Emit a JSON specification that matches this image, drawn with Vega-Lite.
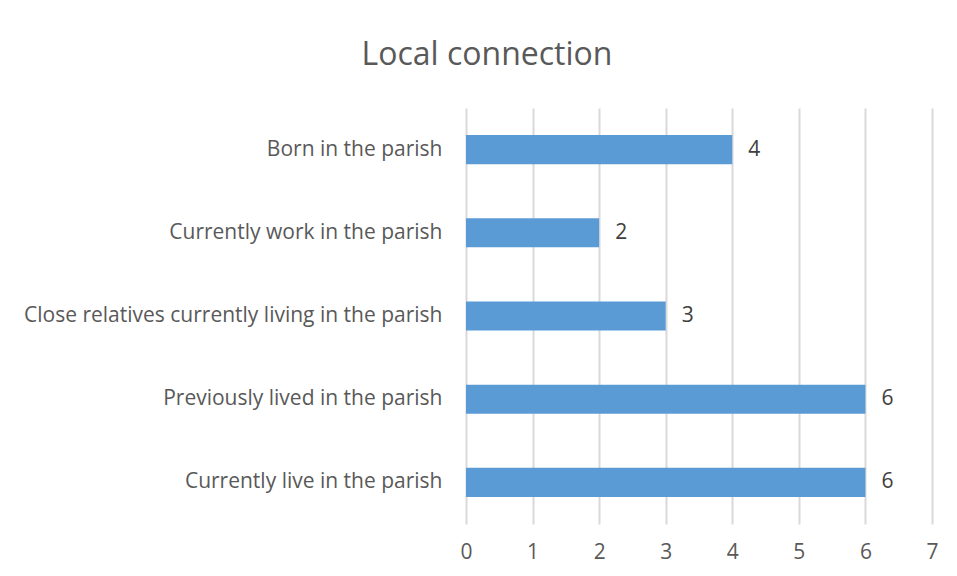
{
  "$schema": "https://vega.github.io/schema/vega-lite/v6.json",
  "autosize": {"type": "none"},
  "width": 466,
  "height": 416,
  "padding": {"left": 466, "top": 108, "right": 25, "bottom": 52},
  "background": "white",
  "title": {
    "text": "Local connection",
    "font": "Open Sans",
    "fontSize": 32,
    "fontWeight": "normal",
    "color": "#595959",
    "anchor": "middle",
    "dx": -212,
    "offset": 36
  },
  "config": {
    "view": {"stroke": null},
    "font": "Open Sans"
  },
  "data": {
    "values": [
      {"category": "Born in the parish", "count": 4},
      {"category": "Currently work in the parish", "count": 2},
      {"category": "Close relatives currently living in the parish", "count": 3},
      {"category": "Previously lived in the parish", "count": 6},
      {"category": "Currently live in the parish", "count": 6}
    ]
  },
  "encoding": {
    "y": {
      "field": "category",
      "type": "nominal",
      "sort": null,
      "title": null,
      "scale": {"paddingInner": 0.65, "paddingOuter": 0.325},
      "axis": {
        "domain": false,
        "ticks": false,
        "grid": false,
        "labelFontSize": 21,
        "labelColor": "#595959",
        "labelPadding": 24,
        "labelLimit": 500
      }
    },
    "x": {
      "field": "count",
      "type": "quantitative",
      "title": null,
      "scale": {"domain": [0, 7], "nice": false},
      "axis": {
        "values": [0, 1, 2, 3, 4, 5, 6, 7],
        "domain": false,
        "ticks": false,
        "grid": true,
        "gridColor": "#d9d9d9",
        "gridWidth": 2,
        "labelFlush": false,
        "labelFontSize": 21,
        "labelColor": "#595959",
        "labelPadding": 17
      }
    }
  },
  "layer": [
    {"mark": {"type": "bar", "color": "#5b9bd5"}},
    {
      "mark": {"type": "text", "align": "left", "dx": 16, "fontSize": 21, "color": "#404040"},
      "encoding": {"text": {"field": "count", "type": "quantitative"}}
    }
  ]
}
